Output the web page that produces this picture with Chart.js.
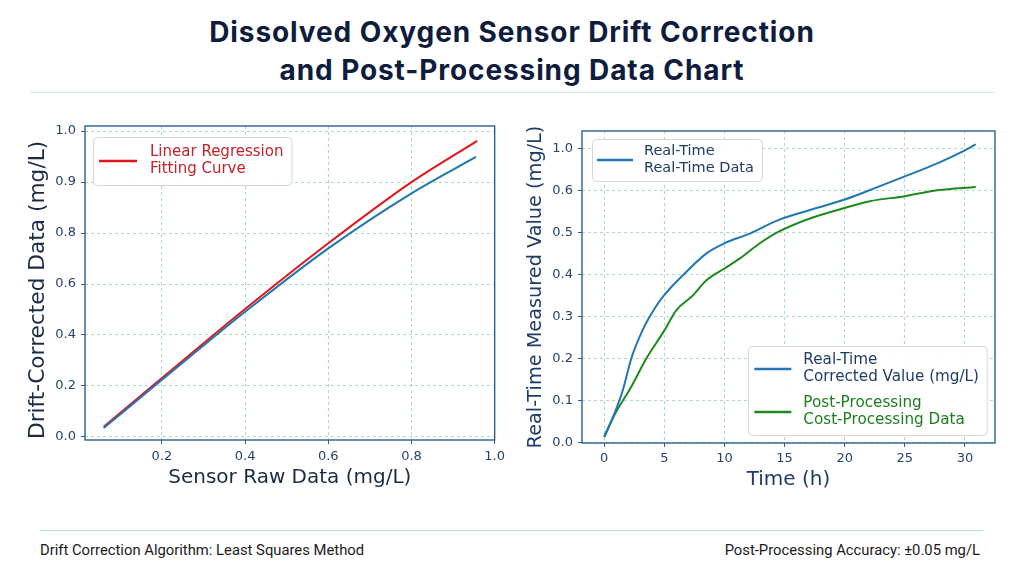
<!DOCTYPE html>
<html lang="en">
<head>
<meta charset="utf-8">
<title>Dissolved Oxygen Sensor Drift Correction</title>
<script src="https://cdn.jsdelivr.net/npm/chart.js@4.4.1/dist/chart.umd.min.js"></script>
<style>
  body { margin: 0; width: 1024px; height: 576px; background: #fff; position: relative; overflow: hidden; }
  #title { position: absolute; top: 13px; left: 0; width: 1024px; text-align: center; letter-spacing: 0.9px;
           font: 700 28px Inter, "Open Sans", sans-serif; line-height: 38px; color: #0e1c3d; }
  .rule { position: absolute; height: 1px; }
  .foot { position: absolute; top: 541px; font: 14.8px Roboto, sans-serif; color: #1b1b1b; }
  .wrap { position: absolute; top: 110px; height: 390px; }
</style>
</head>
<body>
<div id="title">Dissolved Oxygen Sensor Drift Correction<br>and Post-Processing Data Chart</div>
<div class="rule" style="top:92px;left:30px;width:965px;background:#d3ece4"></div>

<div class="wrap" style="left:0;width:510px"><canvas id="leftChart" width="510" height="390"></canvas></div>
<div class="wrap" style="left:510px;width:514px"><canvas id="rightChart" width="514" height="390"></canvas></div>

<div class="rule" style="top:530px;left:40px;width:943px;background:#b5e1d5"></div>
<div class="foot" style="left:40px">Drift Correction Algorithm: Least Squares Method</div>
<div class="foot" style="right:44px">Post-Processing Accuracy: ±0.05 mg/L</div>

<script>
// left panel (y values are in axis position units, labels below)
const rawX = [0.06, 0.2, 0.4, 0.6, 0.8, 0.955];
const correctedY = [0.035, 0.224, 0.491, 0.74, 0.956, 1.099];
const fitX = [0.06, 0.2, 0.4, 0.6, 0.8, 0.958];
const fitY = [0.04, 0.231, 0.502, 0.76, 1.0, 1.162];
const leftYLabels = ['0.0', '0.2', '0.4', '0.6', '0.8', '0.9', '1.0'];
const leftLegend = ['Linear Regression', 'Fitting Curve'];

// right panel
const realHours = [0, 0.86, 1.55, 2.25, 3.2, 4.19, 5, 6.55, 8.5, 10, 12.1, 14.47, 17.1, 20, 22.5, 25, 27.7, 30, 30.9];
const realValues = [0.014, 0.07, 0.125, 0.2, 0.268, 0.319, 0.351, 0.398, 0.45, 0.474, 0.497, 0.529, 0.553, 0.578, 0.605, 0.633, 0.664, 0.695, 0.709];
const postHours = [0, 0.86, 2.25, 3.5, 5.03, 6.0, 7.3, 8.5, 10, 11.28, 12.94, 14.47, 17.1, 20, 22.1, 25, 27.7, 30.9];
const postValues = [0.013, 0.066, 0.133, 0.2, 0.268, 0.315, 0.348, 0.386, 0.414, 0.438, 0.474, 0.501, 0.533, 0.558, 0.574, 0.586, 0.6, 0.608];
const rightYLabels = ['0.0', '0.1', '0.2', '0.3', '0.4', '0.5', '0.6', '1.0'];
const topLegend = ['Real-Time', 'Real-Time Data'];
const realLegend = ['Real-Time', 'Corrected Value (mg/L)'];
const postLegend = ['Post-Processing', 'Cost-Processing Data'];

const BLUE = '#1f77b4', RED = '#e3141c', GREEN = '#1e8a1e';
const NAVY = '#1e3c66', INK = '#1b2b45';

Chart.defaults.font.family = '"DejaVu Sans", sans-serif';
Chart.defaults.color = '#24456b';

function pts(xs, ys) { return xs.map((x, i) => ({ x: x, y: ys[i] })); }

// box round the plot area, like a matplotlib frame
const frame = {
  id: 'frame',
  afterDatasetsDraw(chart) {
    const a = chart.chartArea, ctx = chart.ctx;
    ctx.save();
    ctx.strokeStyle = '#2c5f8f';
    ctx.lineWidth = 1.4;
    ctx.strokeRect(a.left, a.top, a.right - a.left, a.bottom - a.top);
    ctx.restore();
  }
};

// legends drawn inside the plot area, one or more boxes per chart
const boxLegend = {
  id: 'boxLegend',
  afterDraw(chart, args, opts) {
    const ctx = chart.ctx, area = chart.chartArea;
    (opts.groups || []).forEach(g => {
      ctx.save();
      ctx.font = g.font;
      let textW = 0, rows = 0;
      g.items.forEach(it => {
        it.lines.forEach(l => { textW = Math.max(textW, ctx.measureText(l).width); });
        rows += it.lines.length;
      });
      const w = g.textX + textW + 8;
      const h = g.pad * 2 + rows * g.lineH + (g.items.length - 1) * g.gap;
      const x = g.corner === 'br' ? area.right - g.dx - w : area.left + g.dx;
      const y = g.corner === 'br' ? area.bottom - g.dy - h : area.top + g.dy;
      ctx.fillStyle = 'rgba(255,255,255,0.92)';
      ctx.strokeStyle = '#d6d6d6';
      ctx.lineWidth = 1;
      ctx.beginPath();
      ctx.roundRect(Math.round(x) + 0.5, Math.round(y) + 0.5, w, h, 4);
      ctx.fill();
      ctx.stroke();
      let cy = y + g.pad;
      g.items.forEach(it => {
        const ds = chart.data.datasets[it.dataset];
        const blockH = it.lines.length * g.lineH;
        ctx.strokeStyle = ds.borderColor;
        ctx.lineWidth = 2.5;
        ctx.beginPath();
        ctx.moveTo(x + g.lineX0, cy + blockH / 2);
        ctx.lineTo(x + g.lineX1, cy + blockH / 2);
        ctx.stroke();
        ctx.fillStyle = it.color;
        ctx.textBaseline = 'middle';
        it.lines.forEach((l, i) => ctx.fillText(l, x + g.textX, cy + g.lineH * (i + 0.5)));
        cy += blockH + g.gap;
      });
      ctx.restore();
    });
  }
};

function axis(opts) {
  return Object.assign({
    type: 'linear',
    grid: { color: '#a6dcc8', lineWidth: 1, tickLength: 4, tickColor: '#2c5f8f', tickBorderDash: [] },
    border: { display: false, dash: [3, 3] }
  }, opts);
}

const lineStyle = { pointRadius: 0, borderWidth: 2, fill: false, cubicInterpolationMode: 'monotone' };

new Chart(document.getElementById('leftChart'), {
  type: 'line',
  data: {
    datasets: [
      Object.assign({ label: 'Corrected', data: pts(rawX, correctedY), borderColor: BLUE }, lineStyle),
      Object.assign({ label: leftLegend.join(' '), data: pts(fitX, fitY), borderColor: RED }, lineStyle)
    ]
  },
  options: {
    responsive: false,
    animation: false,
    layout: { padding: { top: 16, right: 14, left: 0, bottom: 0 } },
    plugins: {
      legend: { display: false },
      tooltip: { enabled: false },
      boxLegend: { groups: [
        { corner: 'tl', dx: 8, dy: 11, pad: 7, gap: 0, lineH: 17, textX: 57, lineX0: 6, lineX1: 44,
          font: '15px "DejaVu Sans"', items: [{ dataset: 1, lines: leftLegend, color: '#c42128' }] }
      ] }
    },
    scales: {
      x: axis({
        min: 0.015, max: 1.0,
        afterFit: s => { s.height = 60; },
        ticks: { font: { size: 13 }, color: '#24456b', padding: 5, includeBounds: false, maxRotation: 0,
                 stepSize: 0.2, callback: v => v.toFixed(1) },
        title: { display: true, text: 'Sensor Raw Data (mg/L)', color: INK, font: { size: 20 }, padding: { top: 0, bottom: 10 } }
      }),
      y: axis({
        min: -0.012, max: 1.22,
        afterFit: s => { s.width = 85; },
        ticks: { font: { size: 13 }, color: '#24456b', padding: 5, includeBounds: false,
                 stepSize: 0.2, callback: v => leftYLabels[Math.round(v / 0.2)] },
        title: { display: true, text: 'Drift-Corrected Data (mg/L)  ', color: INK, font: { size: 21.7 }, padding: { top: 25, bottom: 0 } }
      })
    }
  },
  plugins: [frame, boxLegend]
});

new Chart(document.getElementById('rightChart'), {
  type: 'line',
  data: {
    datasets: [
      Object.assign({ label: realLegend.join(' '), data: pts(realHours, realValues), borderColor: BLUE }, lineStyle),
      Object.assign({ label: postLegend.join(' '), data: pts(postHours, postValues), borderColor: GREEN }, lineStyle)
    ]
  },
  options: {
    responsive: false,
    animation: false,
    layout: { padding: { top: 21, right: 29, left: 0, bottom: 0 } },
    plugins: {
      legend: { display: false },
      tooltip: { enabled: false },
      boxLegend: { groups: [
        { corner: 'tl', dx: 10, dy: 8, pad: 4, gap: 0, lineH: 17, textX: 52, lineX0: 5, lineX1: 41,
          font: '14.5px "DejaVu Sans"', items: [{ dataset: 0, lines: topLegend, color: NAVY }] },
        { corner: 'br', dx: 8, dy: 8, pad: 6, gap: 9, lineH: 17, textX: 55, lineX0: 6, lineX1: 43,
          font: '15.2px "DejaVu Sans"', items: [
            { dataset: 0, lines: realLegend, color: NAVY },
            { dataset: 1, lines: postLegend, color: '#1c7d1c' }
          ] }
      ] }
    },
    scales: {
      x: axis({
        min: -1.85, max: 32.5,
        afterFit: s => { s.height = 57; },
        ticks: { font: { size: 13 }, color: '#24456b', padding: 4, includeBounds: false, maxRotation: 0, stepSize: 5 },
        title: { display: true, text: 'Time (h)', color: NAVY, font: { size: 20 }, padding: { top: 0, bottom: 8 } }
      }),
      y: axis({
        min: -0.001, max: 0.741,
        afterFit: s => { s.width = 72; },
        ticks: { font: { size: 13 }, color: '#24456b', padding: 5, includeBounds: false,
                 stepSize: 0.1, callback: v => rightYLabels[Math.round(v / 0.1)] },
        title: { display: true, text: 'Real-Time Measured Value (mg/L)', color: NAVY, font: { size: 19.3 }, padding: { top: 14, bottom: 0 } }
      })
    }
  },
  plugins: [frame, boxLegend]
});
</script>
</body>
</html>
